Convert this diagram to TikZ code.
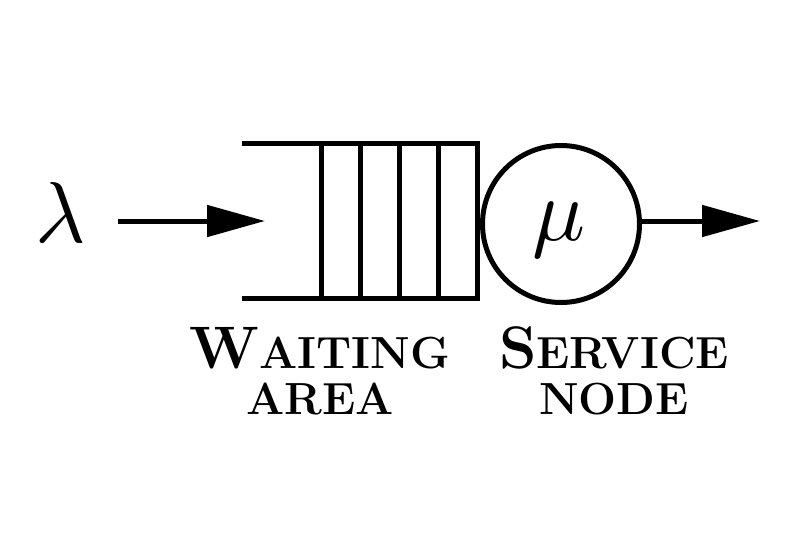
\documentclass[tikz,border=0pt]{standalone}
\usepackage{fontspec}
\usetikzlibrary{arrows.meta}
\newcommand{\capbig}[1]{{\fontsize{60}{62}\selectfont\bfseries #1}}
\newcommand{\capsmall}[1]{{\fontsize{45}{46}\selectfont\bfseries\addfontfeature{LetterSpace=1.5}#1}}
\tikzset{
  heavy/.style={line width=5pt},
  flow/.style={heavy,-{Triangle[length=58pt,width=31pt]}},
  label/.style={align=center,inner sep=0pt,font=\fontsize{45}{46}\selectfont\bfseries},
}
\begin{document}
\begin{tikzpicture}[x=1pt,y=-1pt]
\useasboundingbox (0,0) rectangle (800,557);
% lambda
\node[inner sep=0pt] (lam) at (61,212) {\scalebox{8.65}{$\lambda$}};
\coordinate (inS) at (118,221);
\coordinate (inE) at (265,221);
\draw[flow] (inS) -- (inE);
% queue
\coordinate (qtl) at (242,143);
\coordinate (qbl) at (242,298);
\coordinate (qtr) at (477,143);
\coordinate (qbr) at (477,298);
\draw[heavy,line join=miter] (qtl) -- (qtr) -- (qbr) -- (qbl);
\foreach \x in {321,360,399,438}
  \draw[heavy] (\x,143) -- (\x,298);
% server
\node[heavy,draw,circle,minimum size=157pt,inner sep=0pt] (srv) at (561,224) {};
\node[inner sep=0pt] (mu) at (559,230) {\scalebox{8.8}{$\mu$}};
\coordinate (outE) at (760,221);
\draw[flow] (srv.east |- outE) -- (outE);
% labels
\node[label,anchor=base] (wa) at (320,414) {\capbig{W}\capsmall{AITING}\\\capsmall{AREA}};
\node[label,anchor=base] (sn) at (614,414) {\capbig{S}\capsmall{ERVICE}\\\capsmall{NODE}};
\end{tikzpicture}
\end{document}
